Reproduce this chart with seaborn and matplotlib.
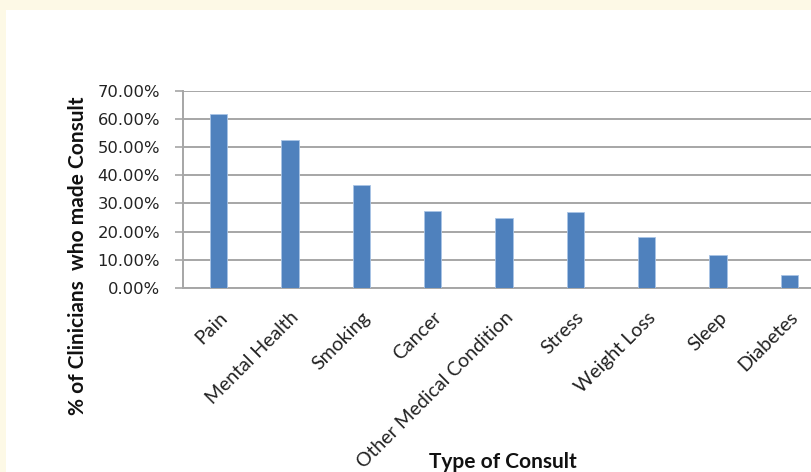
import matplotlib
matplotlib.use("Agg")
import matplotlib.pyplot as plt
import seaborn as sns
import pandas as pd
from matplotlib.ticker import PercentFormatter
from matplotlib.patches import Rectangle

categories = ["Pain", "Mental Health", "Smoking", "Cancer", "Other Medical Condition",
              "Stress", "Weight Loss", "Sleep", "Diabetes"]
values = [0.617, 0.525, 0.364, 0.272, 0.248, 0.271, 0.180, 0.116, 0.047]

df = pd.DataFrame({"cat": categories, "val": values})

sns.set_theme(style="white")
plt.rcParams['font.family'] = ['Lato', 'DejaVu Sans']

fig = plt.figure(figsize=(8.11, 4.72), dpi=100)
fig.patch.set_facecolor("#fdf9e6")
fig.add_artist(Rectangle((6/811, 0), 1, 1 - 10/472, transform=fig.transFigure,
                         facecolor="white", edgecolor="none", zorder=0))

ax = fig.add_axes([183/811, 184/472, (825-183)/811, (288-90.7)/472])
ax.set_facecolor("none")
sns.barplot(data=df, x="cat", y="val", color="#4f81bd", width=0.245, ax=ax,
            saturation=1, edgecolor="#a9c4e6", linewidth=0.6, zorder=3)
ax.set_ylim(0, 0.70)
ax.set_xlim(-0.5, len(categories) - 0.5)
ax.set_yticks([i / 10 for i in range(8)])
ax.yaxis.set_major_formatter(PercentFormatter(1.0, decimals=2))
ax.grid(axis="y", color="#a6a6a6", linewidth=1.4, zorder=0)
for s in ["top", "right"]:
    ax.spines[s].set_visible(False)
for s in ["left", "bottom"]:
    ax.spines[s].set_color("#a6a6a6")
    ax.spines[s].set_linewidth(1.4)
ax.tick_params(axis="y", which="major", left=True, length=5.5, width=1.2, color="#a6a6a6",
               labelsize=11.8, labelcolor="#222222", pad=11)
for lbl in ax.get_yticklabels():
    lbl.set_fontfamily("DejaVu Sans")
ax.set_xticks(range(len(categories)))
ax.set_xticklabels(categories, rotation=45, ha="right", va="top", rotation_mode="anchor",
                   fontsize=14, color="#222222")
ax.tick_params(axis="x", bottom=False, length=0, pad=15)

ax.set_xlabel("")
ax.set_ylabel("")
fig.text(503/811, 1 - 462/472, "Type of Consult", ha="center", va="center",
         fontsize=15, fontweight="bold", color="#111111")
fig.text(78/811, 1 - 256/472, "% of Clinicians  who made Consult", ha="center", va="center",
         rotation=90, fontsize=15, fontweight="bold", color="#111111")

fig.savefig("out.png", dpi=100, facecolor=fig.get_facecolor())
